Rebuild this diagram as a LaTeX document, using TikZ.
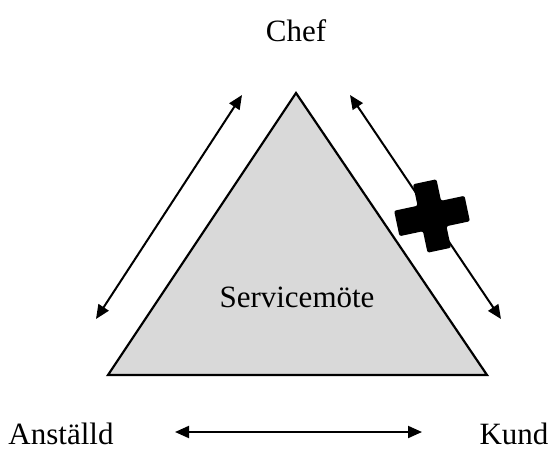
\documentclass[tikz,border=0pt]{standalone}
\usepackage{fontspec}
\setmainfont{Liberation Serif}
\usetikzlibrary{arrows.meta}

\tikzset{
  label/.style={font=\fontsize{31}{36}\selectfont, inner sep=0pt},
  dubbel/.style={{Triangle[length=14pt,width=12pt]}-{Triangle[length=14pt,width=12pt]}, line width=2pt},
}

\begin{document}
\begin{tikzpicture}[x=1pt,y=-1pt]
\useasboundingbox (0,0) rectangle (556,450);

% triangeln
\coordinate (topp) at (296,93);
\coordinate (vbas) at (108,375);
\coordinate (hbas) at (487,375);
\draw[fill=black!15, line width=2.2pt, line join=miter] (topp) -- (vbas) -- (hbas) -- cycle;

\node[label] (chef) at (296,31) {Chef};
\node[label] (anst) at (61,434) {Anställd};
\node[label] (kund) at (514,434) {Kund};
\node[label] (mote) at (297,297) {Servicemöte};

% pilar
\coordinate (v1) at (242,95);
\coordinate (v2) at (96,319);
\coordinate (h1) at (350,95);
\coordinate (h2) at (501,319);
\coordinate (b1) at (175,432);
\coordinate (b2) at (422,432);
\draw[dubbel] (v1) -- (v2);
\draw[dubbel] (h1) -- (h2);
\draw[dubbel] (b1) -- (b2);

% kryss
\fill[rotate around={12:(432,216)}, rounded corners=2pt]
  (420,181) -- (444,181) -- (444,203) -- (468,203) -- (468,229) -- (444,229)
  -- (444,251) -- (420,251) -- (420,229) -- (396,229) -- (396,203) -- (420,203) -- cycle;
\end{tikzpicture}
\end{document}
